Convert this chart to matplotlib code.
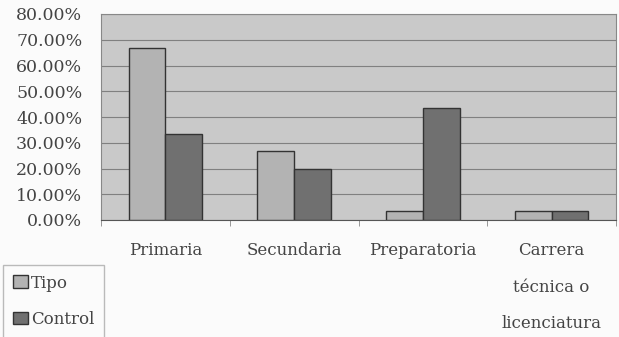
import numpy as np
import matplotlib
matplotlib.use("Agg")
import matplotlib.pyplot as plt
from matplotlib.patches import Patch

categorias = ["Primaria", "Secundaria", "Preparatoria", "Carrera\ntécnica o\nlicenciatura"]
tipo = [66.67, 26.67, 3.33, 3.33]
control = [33.33, 20.00, 43.33, 3.33]
yticks = [0, 10, 20, 30, 40, 50, 60, 70, 80]

plt.rcParams["font.family"] = ["DejaVu Serif"]

fig = plt.figure(figsize=(6.19, 3.37), dpi=100, facecolor="#fbfbfb")
ax = fig.add_axes([101 / 619, 1 - 220 / 337, 515 / 619, 206 / 337])
ax.set_facecolor("#c9c9c9")

x = np.arange(len(categorias))
w = 0.285
ax.bar(x - w / 2, tipo, w, color="#b3b3b3", edgecolor="#333333", linewidth=1.0, zorder=3)
ax.bar(x + w / 2, control, w, color="#707070", edgecolor="#333333", linewidth=1.0, zorder=3)

ax.set_xlim(-0.5, len(categorias) - 0.5)
ax.set_ylim(0, 80)
ax.set_yticks(yticks)
ax.set_yticklabels([f"{v:.2f}%" for v in yticks], fontsize=12.5, color="#444444")
ax.yaxis.grid(True, color="#808080", linewidth=0.8, zorder=0)
ax.tick_params(axis="y", length=0, pad=13.5)

ax.set_xticks(np.arange(len(categorias) + 1) - 0.5, minor=True)
ax.set_xticks(x)
ax.set_xticklabels(categorias, fontsize=12, color="#444444", linespacing=2.5, va="top")
ax.tick_params(axis="x", which="major", length=0, pad=16)
ax.tick_params(axis="x", which="minor", length=4, color="#888888")

for side in ["top", "right", "left"]:
    ax.spines[side].set_color("#888888")
ax.spines["bottom"].set_color("#555555")

handles = [Patch(facecolor="#b3b3b3", edgecolor="#333333", label="Tipo"),
           Patch(facecolor="#707070", edgecolor="#333333", label="Control")]
leg = fig.legend(handles=handles, loc="upper left", bbox_to_anchor=(3 / 619, 1 - 264.5 / 337),
                 fontsize=12, frameon=True, fancybox=False, handlelength=0.9,
                 handleheight=0.8, handletextpad=0.18, labelspacing=1.15,
                 borderpad=0.6, borderaxespad=0)
leg.get_frame().set_edgecolor("#aaaaaa")
leg.get_frame().set_facecolor("#fbfbfb")
for t in leg.get_texts():
    t.set_color("#444444")

fig.savefig("out.png", dpi=100, facecolor=fig.get_facecolor())
